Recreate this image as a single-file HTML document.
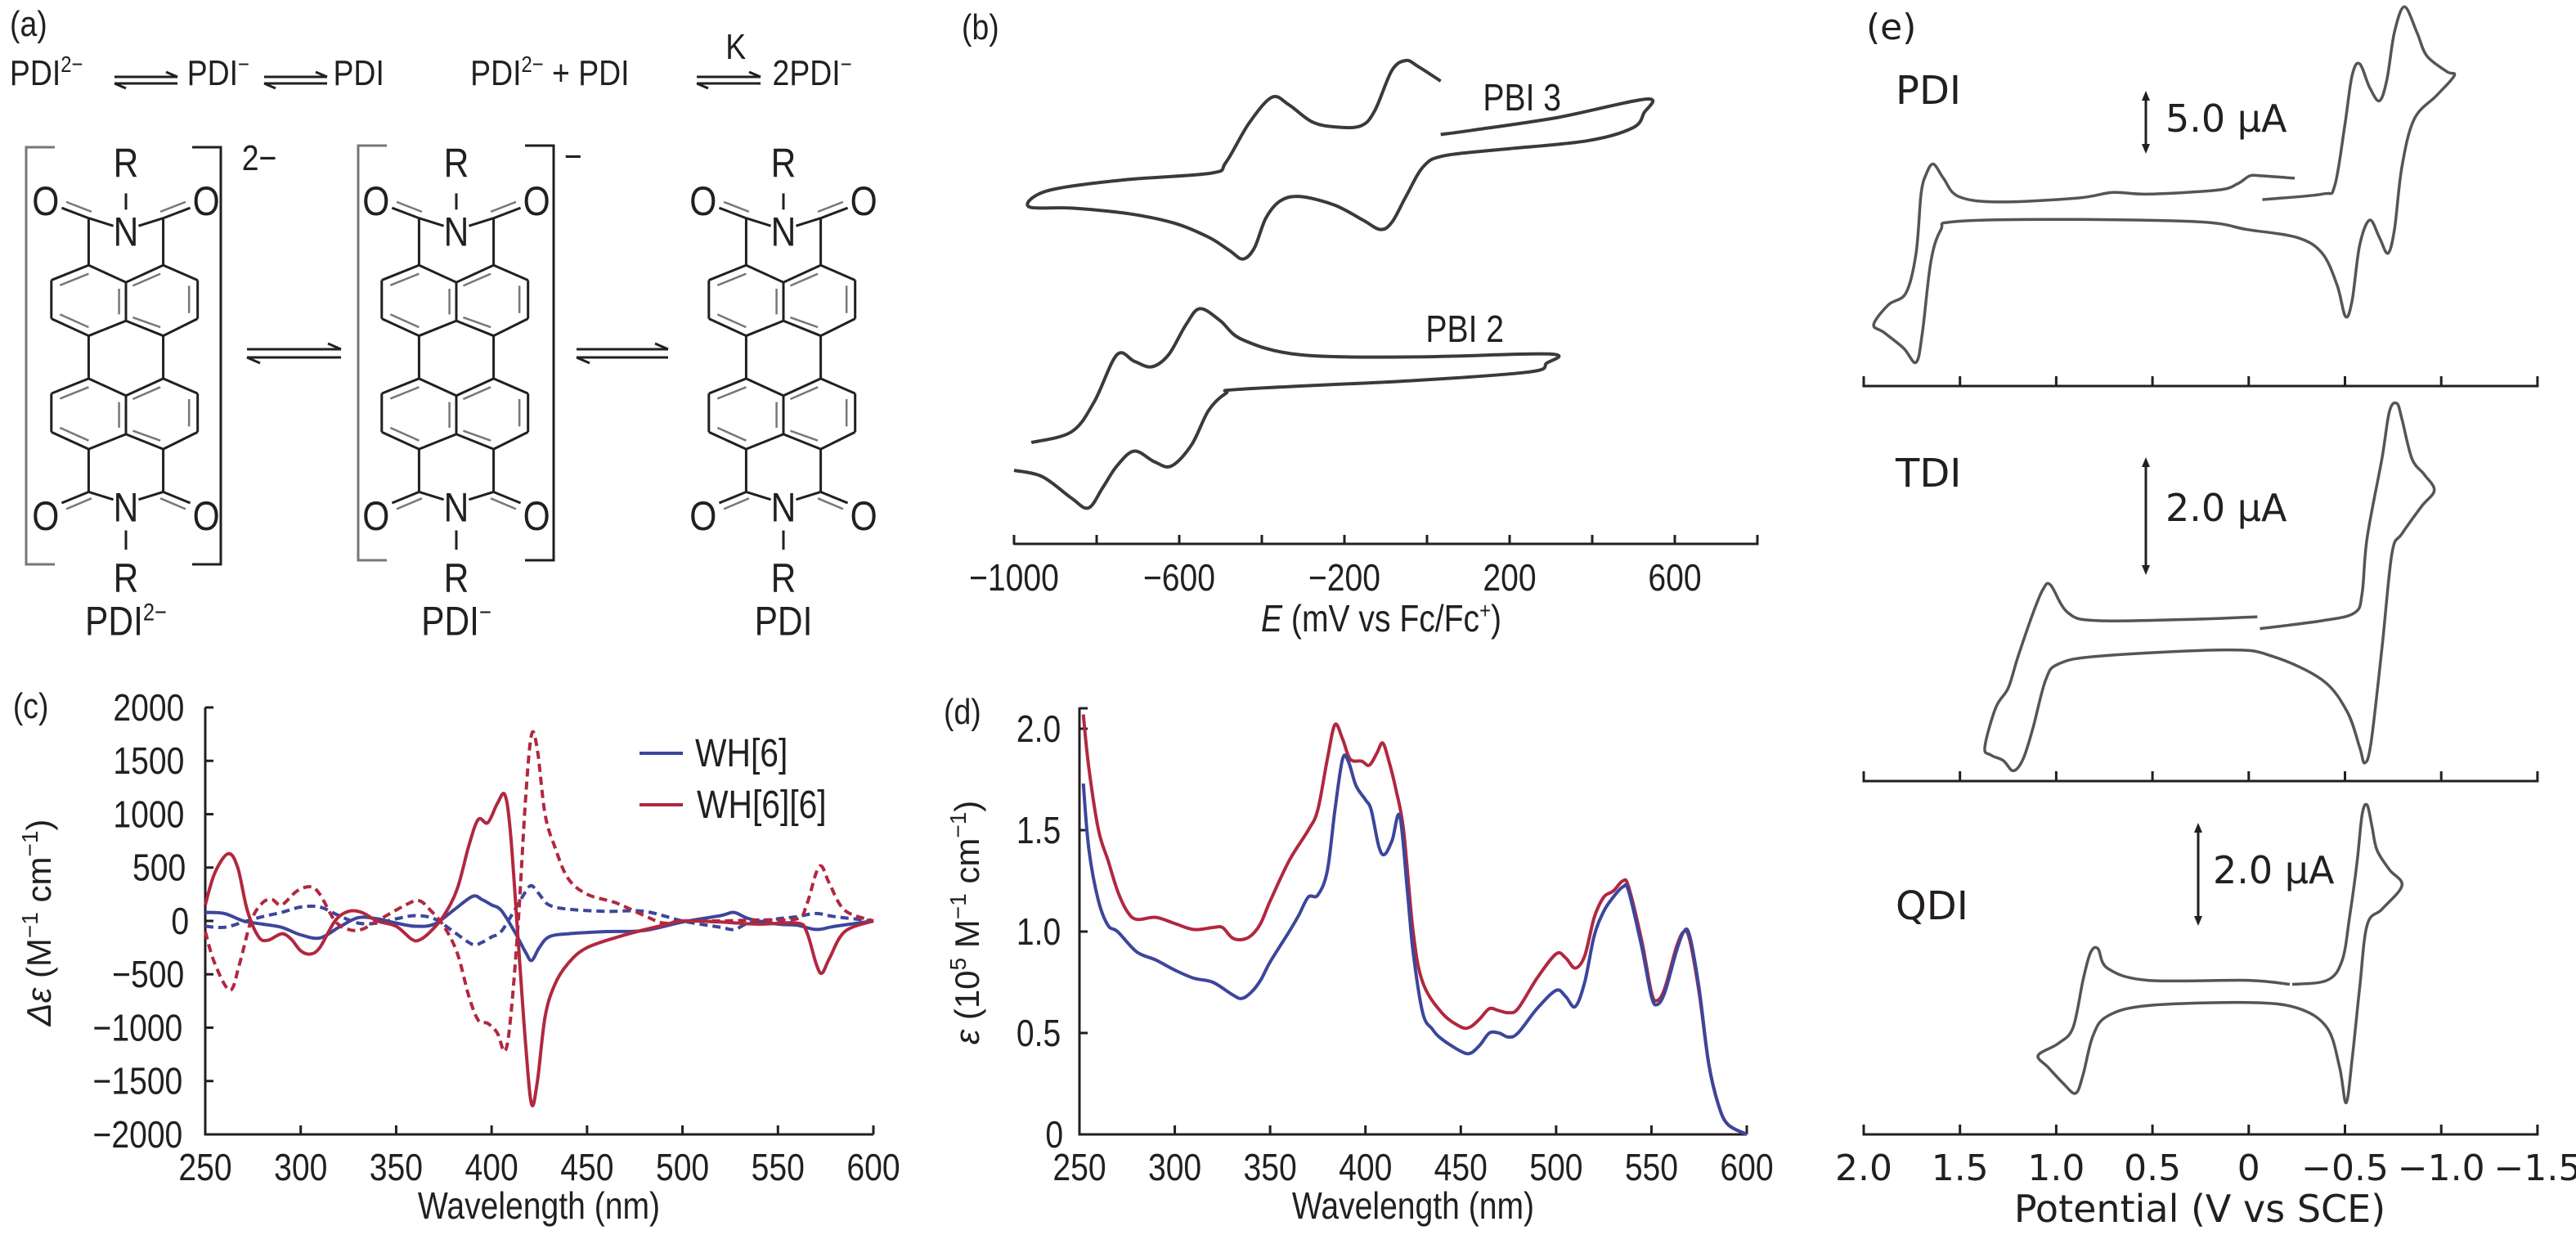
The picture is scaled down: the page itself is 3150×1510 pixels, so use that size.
<!DOCTYPE html>
<html><head><meta charset="utf-8">
<style>
html,body{margin:0;padding:0;background:#fff;}
svg{display:block;}
text{font-family:"Liberation Sans Narrow","Liberation Sans",sans-serif;fill:#231f20;}
.e text{font-family:"DejaVu Sans","Liberation Sans",sans-serif;}
#pa text, #pb text, #pc text:not([transform]), #pd text:not([transform]){transform-box:fill-box;transform-origin:center;transform:scaleX(0.85);}
</style></head>
<body>
<svg id="fig" width="3150" height="1510" viewBox="0 0 3150 1510" xmlns="http://www.w3.org/2000/svg">
<g id="pa"></g>
<g id="pb"></g>
<g id="pc"></g>
<g id="pd"></g>
<g id="pe" class="e"></g>
</svg>
<script>
// ---------- data: panel (c) ----------
const cRedSolidX=[250,255,262,267,272,278,283,290,295,300,305,310,318,325,332,340,350,358,362,368,375,382,388,393,398,403,407,410,414,418,421,424,428,433,440,450,470,490,500,520,540,560,565,570,573,577,585,600];
const cRedSolidY=[150,450,630,500,100,-150,-180,-120,-170,-280,-310,-250,0,90,80,0,-50,-170,-180,-100,50,300,700,950,920,1100,1180,800,-200,-1200,-1720,-1500,-900,-600,-400,-250,-130,-40,0,-10,-30,-20,-100,-400,-490,-350,-100,0];
const cRedDashX=[250,255,263,268,274,280,285,290,298,305,310,318,325,332,340,355,362,368,375,382,388,393,398,403,407,410,414,418,421,424,428,433,440,450,465,480,490,500,520,540,560,565,570,573,577,585,600];
const cRedDashY=[-100,-400,-650,-400,0,170,200,150,280,320,250,0,-80,-80,0,150,190,100,-50,-300,-700,-930,-960,-1050,-1220,-900,0,1200,1750,1600,1000,700,400,250,170,50,-20,0,0,10,20,150,450,510,350,100,0];
const cBlueX=[250,260,270,280,290,300,310,320,330,340,350,360,370,380,390,395,400,405,412,418,421,425,430,440,460,480,500,520,527,535,550,560,570,580,600];
const cBlueSolidY=[80,70,0,-30,-60,-130,-160,-60,30,20,-20,-50,-30,100,230,200,150,100,-100,-300,-370,-250,-150,-120,-100,-90,-10,50,80,20,-30,-40,-80,-50,0];
const cBlueDashY=[-50,-60,-10,40,80,130,130,50,-20,-20,20,50,20,-100,-220,-200,-150,-100,100,280,330,250,150,110,90,90,0,-60,-80,-20,20,40,70,40,0];
const cYTicks=[2000,1500,1000,500,0,-500,-1000,-1500,-2000];
const cYTickLabels=["2000","1500","1000","500","0","\u2212500","\u22121000","\u22121500","\u22122000"];
const wlTicks=[250,300,350,400,450,500,550,600];
// ---------- data: panel (d) ----------
const dRedX=[252,255,260,265,270,275,280,290,300,310,320,325,330,335,340,345,350,360,370,375,380,384,388,392,398,402,406,409,412,416,420,425,430,440,450,455,460,465,470,475,480,490,500,505,510,515,520,525,530,535,538,545,550,553,557,563,567,570,575,580,585,590,600];
const dRedY=[2.07,1.8,1.5,1.35,1.2,1.1,1.06,1.07,1.04,1.01,1.02,1.02,0.97,0.96,0.98,1.04,1.15,1.35,1.5,1.6,1.85,2.02,1.95,1.85,1.84,1.82,1.88,1.93,1.85,1.7,1.5,1.0,0.75,0.6,0.53,0.53,0.57,0.62,0.61,0.6,0.62,0.77,0.89,0.87,0.82,0.88,1.07,1.17,1.2,1.25,1.22,0.95,0.7,0.66,0.72,0.92,1.0,0.96,0.7,0.35,0.15,0.05,0.0];
const dBlueX=[252,255,260,265,270,280,290,300,310,320,330,335,340,345,350,360,365,370,375,380,384,388,391,395,400,403,407,410,414,418,422,425,430,435,440,450,455,460,465,470,475,480,490,500,505,510,515,520,525,530,535,538,545,550,553,557,563,567,570,575,580,585,590,600];
const dBlueY=[1.73,1.4,1.15,1.03,1.0,0.9,0.86,0.81,0.77,0.75,0.69,0.67,0.7,0.76,0.85,1.0,1.08,1.17,1.18,1.3,1.6,1.85,1.84,1.72,1.65,1.6,1.42,1.38,1.45,1.57,1.2,0.9,0.6,0.52,0.47,0.41,0.4,0.44,0.5,0.5,0.48,0.5,0.62,0.71,0.68,0.63,0.75,0.98,1.1,1.17,1.22,1.2,0.92,0.68,0.64,0.7,0.9,1.0,0.98,0.72,0.35,0.15,0.05,0.0];
const dYTicks=[0,0.5,1.0,1.5,2.0];
const dYTickLabels=["0","0.5","1.0","1.5","2.0"];
// ---------- data: panel (b) ----------
const b3E=[33,109,317,532,525,497,386,178,40,-9,-51,-85,-113,-155,-224,-307,-355,-390,-418,-446,-480,-529,-612,-723,-861,-961,-951,-889,-723,-522,-487,-432,-376,-335,-279,-224,-161,-127,-85,-51,-23,33];
const b3I=[9.57,9.67,9.97,10.40,10.07,9.72,9.42,9.22,9.07,8.82,8.12,7.52,7.35,7.57,7.92,8.12,8.02,7.62,6.92,6.66,6.87,7.17,7.50,7.72,7.85,7.87,8.12,8.32,8.52,8.67,8.92,9.82,10.44,10.27,9.87,9.75,9.77,10.12,11.07,11.30,11.17,10.82];
const b2E=[-958,-861,-806,-751,-709,-667,-626,-584,-550,-501,-446,-307,-30,296,289,247,-30,-446,-487,-529,-570,-619,-660,-709,-751,-785,-820,-861,-931,-1000];
const b2I=[2.37,2.62,3.32,4.42,4.27,4.14,4.42,5.12,5.50,5.22,4.77,4.42,4.37,4.44,4.22,4.02,3.82,3.62,3.52,3.12,2.32,1.82,1.92,2.17,1.82,1.32,0.84,1.07,1.57,1.72];
const bTicks=[-1000,-800,-600,-400,-200,0,200,400,600,800];
const bTickLabels=["\u22121000","\u2212600","\u2212200","200","600"];
const bLabelVals=[-1000,-600,-200,200,600];
// ---------- data: panel (e) ----------
const ePdiV=[-0.239,-0.071,-0.006,0.058,0.162,0.524,0.706,0.887,1.301,1.508,1.586,1.638,1.676,1.702,1.728,1.780,1.871,1.948,1.896,1.793,1.728,1.695,1.651,1.599,1.534,1.042,0.266,0.007,-0.252,-0.382,-0.459,-0.503,-0.537,-0.576,-0.628,-0.679,-0.723,-0.757,-0.796,-0.860,-0.977,-1.068,-1.029,-0.925,-0.873,-0.809,-0.757,-0.718,-0.679,-0.628,-0.576,-0.537,-0.498,-0.446,-0.382,-0.071];
const ePdiI=[2.63,2.66,2.66,2.56,2.48,2.43,2.45,2.38,2.33,2.40,2.63,2.81,2.68,2.43,1.68,1.18,1.03,0.78,0.68,0.48,0.30,0.68,1.58,1.98,2.08,2.11,2.08,1.98,1.88,1.68,1.28,0.88,1.08,1.78,2.10,1.88,1.68,1.98,2.78,3.38,3.68,3.93,3.98,4.18,4.48,4.80,4.48,3.88,3.61,3.78,4.08,3.93,3.28,2.53,2.43,2.36];
const eTdiV=[-0.045,0.266,0.783,0.939,1.029,1.068,1.120,1.198,1.249,1.314,1.371,1.340,1.275,1.223,1.172,1.120,1.055,0.990,0.783,0.110,-0.123,-0.382,-0.511,-0.576,-0.602,-0.635,-0.692,-0.744,-0.796,-0.899,-0.964,-0.912,-0.848,-0.796,-0.770,-0.731,-0.692,-0.615,-0.589,-0.550,-0.382,-0.058];
const eTdiI=[2.08,2.05,2.03,2.13,2.48,2.43,2.13,1.58,1.18,0.93,0.43,0.33,0.26,0.13,0.28,0.68,1.28,1.48,1.58,1.66,1.58,1.28,0.88,0.43,0.23,0.48,1.68,2.88,3.13,3.48,3.68,3.88,4.08,4.58,4.78,4.68,4.08,3.08,2.38,2.13,2.03,1.93];
const eQdiV=[-0.213,0.007,0.524,0.732,0.783,0.822,0.861,0.913,0.990,1.094,1.042,0.965,0.900,0.861,0.809,0.732,0.524,0.007,-0.252,-0.407,-0.472,-0.506,-0.537,-0.576,-0.615,-0.692,-0.796,-0.731,-0.666,-0.640,-0.615,-0.589,-0.563,-0.524,-0.485,-0.407,-0.226];
const eQdiI=[1.90,1.95,1.95,2.10,2.35,2.30,1.95,1.35,1.15,1.00,0.85,0.65,0.52,0.75,1.25,1.50,1.63,1.67,1.60,1.35,0.85,0.40,0.95,1.85,2.65,2.85,3.15,3.35,3.60,3.90,4.17,4.05,3.45,2.75,2.20,1.95,1.90];
const eTicks=[2.0,1.5,1.0,0.5,0,-0.5,-1.0,-1.5];
const eTickLabels=["2.0","1.5","1.0","0.5","0","\u22120.5","\u22121.0","\u22121.5"];

const NS="http://www.w3.org/2000/svg";
function mk(parent,tag,attrs,txt){const el=document.createElementNS(NS,tag);for(const k in attrs)el.setAttribute(k,attrs[k]);if(txt!==undefined)el.textContent=txt;parent.appendChild(el);return el;}
function smooth(p){let d="M"+p[0][0].toFixed(1)+","+p[0][1].toFixed(1);for(let i=0;i<p.length-1;i++){const p0=p[i-1]||p[i],p1=p[i],p2=p[i+1],p3=p[i+2]||p2;const c1x=p1[0]+(p2[0]-p0[0])/6,c1y=p1[1]+(p2[1]-p0[1])/6,c2x=p2[0]-(p3[0]-p1[0])/6,c2y=p2[1]-(p3[1]-p1[1])/6;d+=" C"+c1x.toFixed(1)+","+c1y.toFixed(1)+" "+c2x.toFixed(1)+","+c2y.toFixed(1)+" "+p2[0].toFixed(1)+","+p2[1].toFixed(1);}return d;}
function line(g,x1,y1,x2,y2,w,c){return mk(g,"line",{x1:x1,y1:y1,x2:x2,y2:y2,stroke:c||"#231f20","stroke-width":w||3});}

// ================= Panel (a) =================
(function(){
const g=document.getElementById("pa");
const SX=0.7015,SY=0.523;
let t;
t=mk(g,"text",{x:8,y:44,"font-size":44},"(a)");


function eq(x1,x2,y){const a=mk(g,"g",{});
 line(a,x1,y-4,x2,y-4,3);line(a,x2,y-4,x2-14,y-10,3);line(a,x1,y+4,x2,y+4,3);line(a,x1,y+4,x1+14,y+10,3);}
function hdr(x,base,sup){const tt=mk(g,"text",{x:x,y:104,"font-size":44});
 const s1=mk(tt,"tspan",{},base);if(sup){mk(tt,"tspan",{dy:-16,"font-size":28},sup);}return tt;}
hdr(4,"PDI","2\u2212");eq(140,217,98);
hdr(222,"PDI","\u2212");eq(323,400,98);
hdr(402,"PDI");
const t2=mk(g,"text",{x:558,y:104,"font-size":44});
mk(t2,"tspan",{},"PDI");mk(t2,"tspan",{dy:-16,"font-size":28},"2\u2212");mk(t2,"tspan",{dy:16}," + PDI");
eq(852,930,98);
t=mk(g,"text",{x:885,y:72,"font-size":44},"K");
hdr(936,"2PDI","\u2212");
function structure(cx,label,sup){
 const s=mk(g,"g",{});
 const P=(dx,zy)=>[cx+dx*SX,zy*SY];
 const L=(a,b,c,d,w,col)=>{const p=P(a,b),q=P(c,d);line(s,p[0],p[1],q[0],q[1],w||3,col);};
 const T=(dx,zy,str,fs)=>{const p=P(dx,zy);const e=mk(s,"text",{x:p[0],y:p[1]+fs*0.36,"font-size":fs,"text-anchor":"middle"},str);return e;};
 const ring=(v)=>{for(let i=0;i<6;i++){const a=v[i],b=v[(i+1)%6];L(a[0],a[1],b[0],b[1]);}};
 [0,265].forEach(o=>{
  ring([[-65,620+o],[-130,655+o],[-130,745+o],[-65,785+o],[0,750+o],[0,660+o]]);
  ring([[65,620+o],[0,660+o],[0,750+o],[65,785+o],[125,745+o],[125,655+o]]);
  L(-65,640+o,-115,667+o,2.5,"#777");L(-115,735+o,-65,765+o,2.5,"#777");L(-12,675+o,-12,735+o,2.5,"#777");
  L(12,668+o,60,640+o,2.5,"#777");L(110,668+o,110,732+o,2.5,"#777");L(12,742+o,60,765+o,2.5,"#777");
 });
 L(-65,785,-65,885);L(65,785,65,885);
 L(-65,620,-65,510);L(65,620,65,510);
 L(-65,510,-22,528);L(65,510,22,528);
 L(-65,510,-112,486);L(-60,495,-104,472,2.5,"#777");
 L(65,510,112,486);L(60,495,104,472,2.5,"#777");
 L(0,452,0,490);
 T(0,380,"R",50);T(0,540,"N",50);T(-140,468,"O",50);T(140,468,"O",50);
 L(-65,1050,-65,1150);L(65,1050,65,1150);
 L(-65,1150,-22,1168);L(65,1150,22,1168);
 L(-65,1150,-112,1176);L(-60,1165,-104,1190,2.5,"#777");
 L(65,1150,112,1176);L(60,1165,104,1190,2.5,"#777");
 L(0,1240,0,1285);
 T(0,1185,"N",50);T(-140,1205,"O",50);T(140,1205,"O",50);T(0,1350,"R",50);
 const p=P(0,1450);const lab=mk(s,"text",{x:p[0],y:p[1]+18,"font-size":50,"text-anchor":"middle"});
 
 
 mk(lab,"tspan",{},label);if(sup)mk(lab,"tspan",{dy:-18,"font-size":30},sup);
}
structure(154,"PDI","2\u2212");
structure(558,"PDI","\u2212");
structure(958,"PDI");
function bracket(xl,xr,yt,yb){const b=mk(g,"g",{});
 mk(b,"polyline",{points:`${xl+35},${yt} ${xl},${yt} ${xl},${yb} ${xl+35},${yb}`,fill:"none",stroke:"#777","stroke-width":3});
 mk(b,"polyline",{points:`${xr-35},${yt} ${xr},${yt} ${xr},${yb} ${xr-35},${yb}`,fill:"none",stroke:"#231f20","stroke-width":3});}
bracket(32,270,180,690);bracket(438,677,178,685);
t=mk(g,"text",{x:292,y:208,"font-size":44},"2\u2212");
t=mk(g,"text",{x:688,y:206,"font-size":44},"\u2212");
function beq(x1,x2,y){const a=mk(g,"g",{});
 line(a,x1,y-5,x2,y-5,3);line(a,x2,y-5,x2-16,y-12,3);line(a,x1,y+5,x2,y+5,3);line(a,x1,y+5,x1+16,y+12,3);}
beq(302,417,432);beq(705,817,432);
})();

// ================= Panel (b) =================
(function(){
const g=document.getElementById("pb");
const AX=665, bx=E=>1240+(E+1000)*0.505, by=I=>AX-I*52.3;
let t=mk(g,"text",{x:1172,y:48,"font-size":44},"(b)");
const ax=mk(g,"line",{x1:1240,y1:AX,x2:2150,y2:AX,stroke:"#231f20","stroke-width":3});

bTicks.forEach(v=>{const tk=mk(g,"line",{x1:bx(v),y1:AX+1,x2:bx(v),y2:AX-11,stroke:"#231f20","stroke-width":3});});
bLabelVals.forEach((v,i)=>{const tl=mk(g,"text",{x:bx(v),y:722,"font-size":46,"text-anchor":"middle"},bTickLabels[i]);});
const tt=mk(g,"text",{x:1689,y:772,"font-size":46,"text-anchor":"middle"});

mk(tt,"tspan",{"font-style":"italic"},"E");mk(tt,"tspan",{}," (mV vs Fc/Fc");mk(tt,"tspan",{dy:-16,"font-size":28},"+");mk(tt,"tspan",{dy:16},")");
const p3=mk(g,"path",{d:smooth(b3E.map((e,i)=>[bx(e),by(b3I[i])])),fill:"none",stroke:"#3a3a3a","stroke-width":4});

const p2=mk(g,"path",{d:smooth(b2E.map((e,i)=>[bx(e),by(b2I[i])])),fill:"none",stroke:"#3a3a3a","stroke-width":4});

t=mk(g,"text",{x:1805,y:135,"font-size":46},"PBI 3");
t=mk(g,"text",{x:1735,y:418,"font-size":46},"PBI 2");
})();

// ================= Panel (c) =================
(function(){
const g=document.getElementById("pc");
const x0=251,x1=1068,yT=865,yB=1387;
const cx=l=>x0+(l-250)*(x1-x0)/350, cy=v=>1126-v*(yB-yT)/4000;
let t=mk(g,"text",{x:12,y:878,"font-size":44},"(c)");
const ya=mk(g,"line",{x1:x0,y1:yT,x2:x0,y2:yB+1.5,stroke:"#231f20","stroke-width":3});
const xa=mk(g,"line",{x1:x0,y1:yB,x2:x1,y2:yB,stroke:"#231f20","stroke-width":3});
cYTicks.forEach((v,i)=>{const tk=mk(g,"line",{x1:x0,y1:cy(v),x2:x0+10,y2:cy(v),stroke:"#231f20","stroke-width":3});
 const tl=mk(g,"text",{x:233,y:cy(v)+16,"font-size":46,"text-anchor":"end"},cYTickLabels[i]);});
wlTicks.forEach(v=>{const tk=mk(g,"line",{x1:cx(v),y1:yB,x2:cx(v),y2:yB-11,stroke:"#231f20","stroke-width":3});
 const tl=mk(g,"text",{x:cx(v),y:1443,"font-size":46,"text-anchor":"middle"},String(v));});
const xt=mk(g,"text",{x:659,y:1490,"font-size":46,"text-anchor":"middle"},"Wavelength (nm)");
const yt=mk(g,"text",{x:0,y:0,"font-size":42,"text-anchor":"middle",transform:"translate(62,1128) rotate(-90)"});

mk(yt,"tspan",{"font-style":"italic"},"\u0394\u03b5");mk(yt,"tspan",{}," (M");mk(yt,"tspan",{dy:-16,"font-size":28},"\u22121");mk(yt,"tspan",{dy:16}," cm");mk(yt,"tspan",{dy:-16,"font-size":28},"\u22121");mk(yt,"tspan",{dy:16},")");
const BLUE="#3c469b",RED="#b1283f";
const s1=mk(g,"path",{d:smooth(cBlueX.map((x,i)=>[cx(x),cy(cBlueDashY[i])])),fill:"none",stroke:BLUE,"stroke-width":4,"stroke-dasharray":"10 6"});
const s2=mk(g,"path",{d:smooth(cBlueX.map((x,i)=>[cx(x),cy(cBlueSolidY[i])])),fill:"none",stroke:BLUE,"stroke-width":4});
const s3=mk(g,"path",{d:smooth(cRedDashX.map((x,i)=>[cx(x),cy(cRedDashY[i])])),fill:"none",stroke:RED,"stroke-width":4,"stroke-dasharray":"10 6"});
const s4=mk(g,"path",{d:smooth(cRedSolidX.map((x,i)=>[cx(x),cy(cRedSolidY[i])])),fill:"none",stroke:RED,"stroke-width":4});
const lg=mk(g,"g",{});
let le=mk(lg,"line",{x1:782,y1:921,x2:835,y2:921,stroke:BLUE,"stroke-width":4});
le=mk(lg,"text",{x:840,y:937,"font-size":48},"WH[6]");
le=mk(lg,"line",{x1:782,y1:984,x2:835,y2:984,stroke:RED,"stroke-width":4});
le=mk(lg,"text",{x:838,y:1000,"font-size":48},"WH[6][6]");
})();

// ================= Panel (d) =================
(function(){
const g=document.getElementById("pd");
const x0=1320,x1=2136,yB=1387;
const dx=l=>x0+(l-250)*(x1-x0)/350, dy=v=>yB-v*248;
let t=mk(g,"text",{x:1150,y:885,"font-size":44},"(d)");
const ya=mk(g,"line",{x1:x0,y1:865,x2:x0,y2:yB+1.5,stroke:"#231f20","stroke-width":3});
const xa=mk(g,"line",{x1:x0,y1:yB,x2:x1,y2:yB,stroke:"#231f20","stroke-width":3});
let tk0=mk(g,"line",{x1:x0,y1:866,x2:x0+10,y2:866,stroke:"#231f20","stroke-width":3});
dYTicks.forEach((v,i)=>{const tk=mk(g,"line",{x1:x0,y1:dy(v),x2:x0+10,y2:dy(v),stroke:"#231f20","stroke-width":3});
 const tl=mk(g,"text",{x:1302,y:dy(v)+16,"font-size":46,"text-anchor":"end"},dYTickLabels[i]);});
wlTicks.forEach(v=>{const tk=mk(g,"line",{x1:dx(v),y1:yB,x2:dx(v),y2:yB-11,stroke:"#231f20","stroke-width":3});
 const tl=mk(g,"text",{x:dx(v),y:1443,"font-size":46,"text-anchor":"middle"},String(v));});
const xt=mk(g,"text",{x:1728,y:1490,"font-size":46,"text-anchor":"middle"},"Wavelength (nm)");
const yt=mk(g,"text",{x:0,y:0,"font-size":42,"text-anchor":"middle",transform:"translate(1197,1128) rotate(-90)"});

mk(yt,"tspan",{"font-style":"italic"},"\u03b5");mk(yt,"tspan",{}," (10");mk(yt,"tspan",{dy:-16,"font-size":28},"5");mk(yt,"tspan",{dy:16}," M");mk(yt,"tspan",{dy:-16,"font-size":28},"\u22121");mk(yt,"tspan",{dy:16}," cm");mk(yt,"tspan",{dy:-16,"font-size":28},"\u22121");mk(yt,"tspan",{dy:16},")");
const r=mk(g,"path",{d:smooth(dRedX.map((x,i)=>[dx(x),dy(dRedY[i])])),fill:"none",stroke:"#b1283f","stroke-width":4});
const b=mk(g,"path",{d:smooth(dBlueX.map((x,i)=>[dx(x),dy(dBlueY[i])])),fill:"none",stroke:"#3c469b","stroke-width":4});
})();

// ================= Panel (e) =================
(function(){
const g=document.getElementById("pe");
const ex=V=>2279+(2-V)*235.4;
const axes=[472,955,1387];
let t=mk(g,"text",{x:2282,y:48,"font-size":44},"(e)");
axes.forEach(A=>{const a=mk(g,"line",{x1:ex(2),y1:A,x2:ex(-1.5),y2:A,stroke:"#231f20","stroke-width":3});
 eTicks.forEach(v=>{const tk=mk(g,"line",{x1:ex(v),y1:A+1.5,x2:ex(v),y2:A-12,stroke:"#231f20","stroke-width":3});});});
eTicks.forEach((v,i)=>{const tl=mk(g,"text",{x:ex(v),y:1443,"font-size":44,"text-anchor":"middle"},eTickLabels[i]);});
const xt=mk(g,"text",{x:2690,y:1494,"font-size":46,"text-anchor":"middle"},"Potential (V vs SCE)");
const ey=(A,I)=>A-I*96.6;
const tr=[[ePdiV,ePdiI,472,'pdi-cv-trace'],[eTdiV,eTdiI,955,'tdi-cv-trace'],[eQdiV,eQdiI,1387,'qdi-cv-trace']];
tr.forEach(s=>{const p=mk(g,"path",{d:smooth(s[0].map((v,i)=>[ex(v),ey(s[2],s[1][i])])),fill:"none",stroke:"#555","stroke-width":3.5});
 
 });
const labs=[["PDI",2318,127],["TDI",2318,595],["QDI",2318,1124]];
labs.forEach(l=>{const e=mk(g,"text",{x:l[1],y:l[2],"font-size":48},l[0]);});
function bar(x,y1,y2,lx,ly,txt){const b=mk(g,"g",{});
 line(b,x,y1+6,x,y2-6,3);mk(b,"polygon",{points:`${x},${y1} ${x-5},${y1+12} ${x+5},${y1+12}`,fill:"#231f20"});mk(b,"polygon",{points:`${x},${y2} ${x-5},${y2-12} ${x+5},${y2-12}`,fill:"#231f20"});
 const tl=mk(b,"text",{x:lx,y:ly,"font-size":46},txt);}
bar(2624,111,188,2648,161,"5.0 \u00b5A");
bar(2624,559,703,2648,637,"2.0 \u00b5A");
bar(2688,1006,1132,2706,1080,"2.0 \u00b5A");
})();
</script>
</body></html>
